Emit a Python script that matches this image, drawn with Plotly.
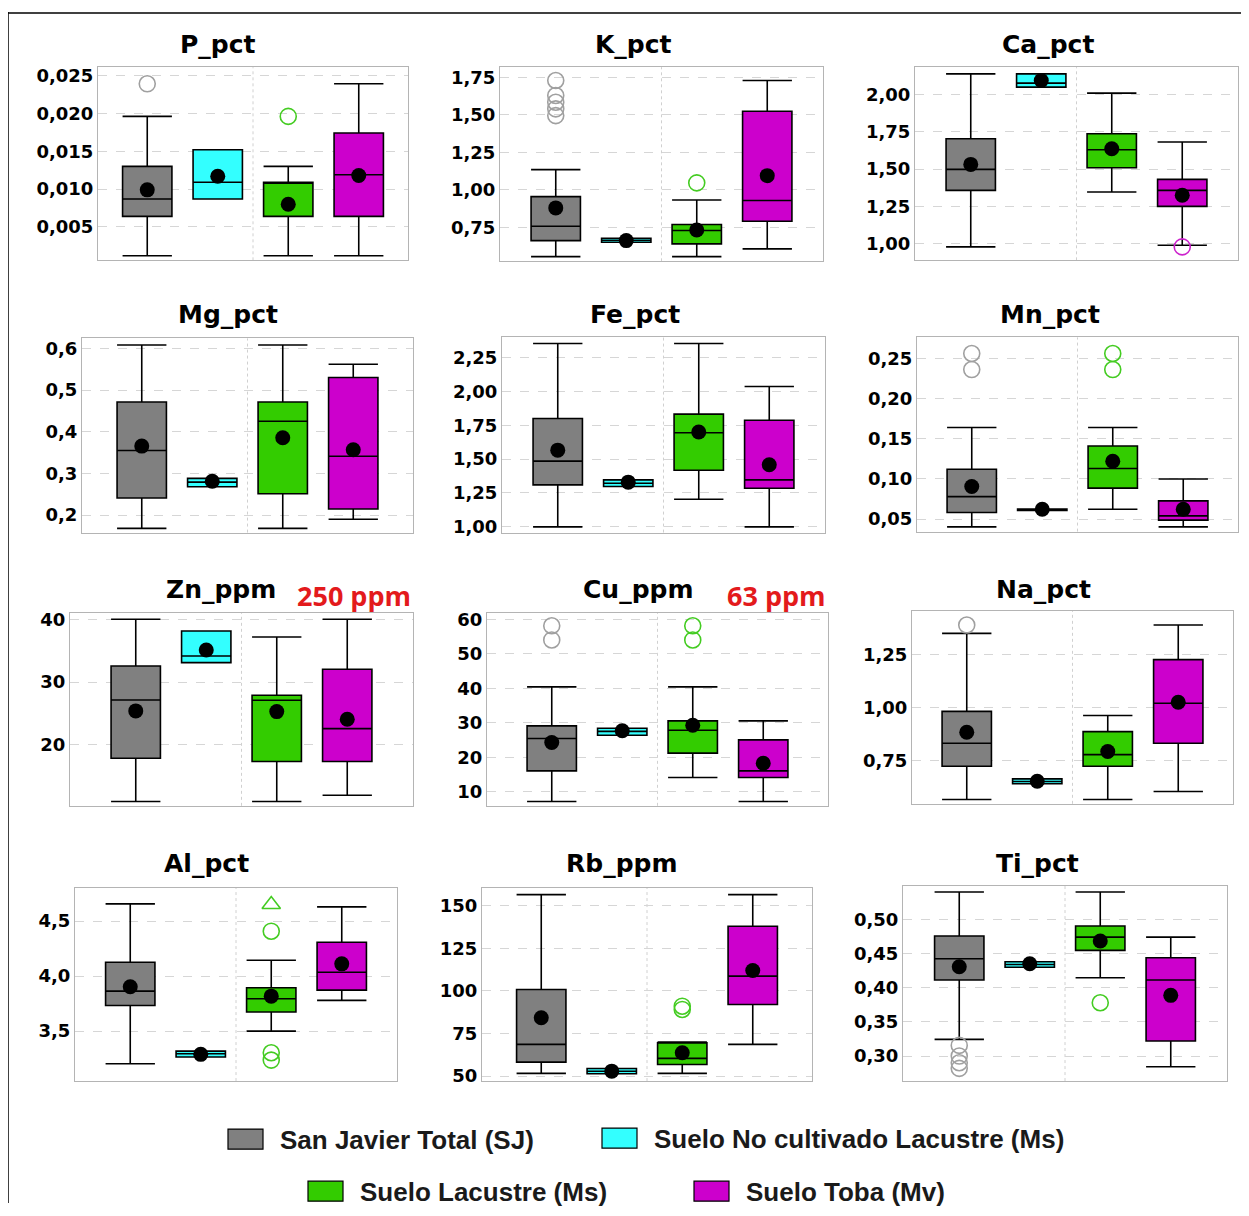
import plotly.graph_objects as go

# the page shifts the figure right/down and squeezes it slightly in height,
# so positions are mapped back to the window through these constants
W, H = 1233, 1200
OFFSET_X, OFFSET_Y, SQUEEZE = 8, 12, 0.9916

VARIABLES = ["P_pct", "K_pct", "Ca_pct", "Mg_pct", "Fe_pct", "Mn_pct",
             "Zn_ppm", "Cu_ppm", "Na_pct", "Al_pct", "Rb_ppm", "Ti_pct"]
GROUPS = ["San Javier Total (SJ)", "Suelo No cultivado Lacustre (Ms)",
          "Suelo Lacustre (Ms)", "Suelo Toba (Mv)"]
COLORS = ["#808080", "#33ffff", "#33cc00", "#cc00cc"]
OUTLIER_COLORS = ["#a0a0a0", "#33ffff", "#44cc22", "#cc22cc"]

# one row per variable, one value per group (SJ, Ms no cultivado, Ms lacustre, Mv)
LOWER = [
    [0.0012, 0.0087, 0.0012, 0.0012],
    [0.554, 0.650, 0.554, 0.606],
    [0.978, 2.049, 1.346, 0.989],
    [0.168, 0.268, 0.168, 0.190],
    [1.00, 1.298, 1.204, 1.00],
    [0.0405, 0.0608, 0.0624, 0.0405],
    [10.98, 33.1, 10.98, 11.99],
    [7.2, 26.4, 14.15, 7.2],
    [0.5655, 0.640, 0.5655, 0.603],
    [3.203, 3.264, 3.50, 3.779],
    [51.6, 51.4, 51.6, 68.6],
    [0.3244, 0.430, 0.4146, 0.2844],
]
Q1 = [
    [0.0064, 0.0087, 0.0064, 0.0064],
    [0.661, 0.650, 0.639, 0.790],
    [1.357, 2.049, 1.509, 1.250],
    [0.241, 0.268, 0.251, 0.2145],
    [1.31, 1.298, 1.418, 1.285],
    [0.0583, 0.0608, 0.0886, 0.0488],
    [17.88, 33.1, 17.35, 17.35],
    [16.08, 26.4, 21.2, 14.15],
    [0.723, 0.640, 0.723, 0.832],
    [3.733, 3.264, 3.673, 3.873],
    [58.2, 51.4, 56.8, 92.0],
    [0.4112, 0.430, 0.4546, 0.322],
]
MEDIAN = [
    [0.0087, 0.0109, 0.0109, 0.0119],
    [0.757, 0.663, 0.728, 0.928],
    [1.498, 2.076, 1.629, 1.357],
    [0.355, 0.279, 0.425, 0.341],
    [1.485, 1.322, 1.695, 1.347],
    [0.078, 0.0616, 0.113, 0.0541],
    [27.16, 34.16, 27.1, 22.6],
    [25.44, 27.5, 27.86, 16.08],
    [0.832, 0.651, 0.778, 1.021],
    [3.864, 3.294, 3.794, 4.036],
    [68.6, 52.9, 60.4, 108.6],
    [0.4424, 0.434, 0.4741, 0.4112],
]
Q3 = [
    [0.0130, 0.0152, 0.0109, 0.0174],
    [0.954, 0.677, 0.768, 1.523],
    [1.703, 2.138, 1.737, 1.431],
    [0.4715, 0.288, 0.4715, 0.530],
    [1.80, 1.347, 1.832, 1.787],
    [0.112, 0.0625, 0.141, 0.0728],
    [32.57, 38.14, 27.9, 32.04],
    [29.1, 28.4, 30.56, 25.06],
    [0.983, 0.663, 0.887, 1.228],
    [4.127, 3.318, 3.894, 4.309],
    [100.8, 54.5, 69.5, 137.9],
    [0.4756, 0.438, 0.4902, 0.4439],
]
UPPER = [
    [0.0196, 0.0152, 0.0130, 0.0239],
    [1.134, 0.677, 0.932, 1.728],
    [2.138, 2.138, 2.009, 1.681],
    [0.608, 0.288, 0.608, 0.562],
    [2.353, 1.347, 2.353, 2.036],
    [0.164, 0.0625, 0.164, 0.100],
    [40.0, 38.14, 37.19, 40.0],
    [40.4, 28.4, 40.4, 30.56],
    [1.3525, 0.663, 0.963, 1.392],
    [4.658, 3.318, 4.145, 4.630],
    [156.4, 54.5, 70.0, 156.4],
    [0.540, 0.438, 0.540, 0.4741],
]
MEAN = [
    [0.0099, 0.0117, 0.0080, 0.0118],
    [0.879, 0.661, 0.732, 1.094],
    [1.531, 2.094, 1.636, 1.324],
    [0.3655, 0.281, 0.3855, 0.3566],
    [1.566, 1.33, 1.70, 1.458],
    [0.0907, 0.0624, 0.122, 0.0624],
    [25.41, 35.12, 25.3, 24.08],
    [24.3, 27.7, 29.3, 18.3],
    [0.884, 0.652, 0.793, 1.026],
    [3.903, 3.288, 3.818, 4.112],
    [84.2, 52.9, 63.7, 111.9],
    [0.4307, 0.435, 0.4683, 0.3888],
]
OUTLIERS = [
    [[0.0239], [], [0.0196], []],
    [[1.728, 1.628, 1.583, 1.539, 1.494], [], [1.046], []],
    [[], [], [], [0.978]],
    [[], [], [], []],
    [[], [], [], []],
    [[0.256, 0.236], [], [0.256, 0.236], []],
    [[], [], [], []],
    [[58.1, 54.0], [], [58.1, 54.0], []],
    [[1.392], [], [], []],
    [[], [], [4.409, 3.303, 3.236], []],
    [[], [], [91.0, 89.1], []],
    [[0.3156, 0.300, 0.2902, 0.282], [], [0.378], []],
]
EXTREMES = [
    [[], [], [], []], [[], [], [], []], [[], [], [], []],
    [[], [], [], []], [[], [], [], []], [[], [], [], []],
    [[], [], [], []], [[], [], [], []], [[], [], [], []],
    [[], [], [4.652], []], [[], [], [], []], [[], [], [], []],
]

Y_RANGES = [
    [0.0006, 0.0261], [0.523, 1.817], [0.888, 2.183],
    [0.158, 0.624], [0.958, 2.398], [0.0346, 0.276],
    [10.3, 41.06], [5.95, 61.9], [0.545, 1.46],
    [3.045, 4.803], [47.1, 160.35], [0.2634, 0.549],
]
Y_TICKS = [
    [0.005, 0.010, 0.015, 0.020, 0.025],
    [0.75, 1.00, 1.25, 1.50, 1.75],
    [1.00, 1.25, 1.50, 1.75, 2.00],
    [0.2, 0.3, 0.4, 0.5, 0.6],
    [1.00, 1.25, 1.50, 1.75, 2.00, 2.25],
    [0.05, 0.10, 0.15, 0.20, 0.25],
    [20, 30, 40],
    [10, 20, 30, 40, 50, 60],
    [0.75, 1.00, 1.25],
    [3.5, 4.0, 4.5],
    [50, 75, 100, 125, 150],
    [0.30, 0.35, 0.40, 0.45, 0.50],
]
TICK_FORMATS = [".3f", ".2f", ".2f", ".1f", ".2f", ".2f",
                "d", "d", ".2f", ".1f", "d", ".2f"]

# plot areas in window pixels: left, right, top, bottom
PANELS = [
    (98, 408, 67, 260), (500, 823, 67, 261), (915, 1238, 67, 260),
    (82, 413, 338, 532), (502, 825, 337, 532), (917, 1238, 337, 531),
    (70, 413, 612, 805), (487, 828, 612, 805), (912, 1233, 610, 803),
    (75, 397, 887, 1080), (482, 812, 887, 1080), (903, 1227, 885, 1080),
]
TITLE_POS = [
    (218, 44), (633, 44), (1048, 44),
    (228, 314), (635, 314), (1050, 314),
    (221, 589), (638, 589), (1043, 589),
    (206, 863), (622, 863), (1037, 863),
]


def px(x):
    return (x - OFFSET_X) / W


def py(y):
    return 1 - (y / SQUEEZE - OFFSET_Y) / H


fig = go.Figure()
layout = {}
shapes = []
annotations = []

for i, var in enumerate(VARIABLES):
    suffix = "" if i == 0 else str(i + 1)
    xa, ya = f"x{suffix}", f"y{suffix}"
    for j, grp in enumerate(GROUPS):
        fig.add_trace(go.Box(
            x=[grp], q1=[Q1[i][j]], median=[MEDIAN[i][j]], q3=[Q3[i][j]],
            lowerfence=[LOWER[i][j]], upperfence=[UPPER[i][j]],
            fillcolor=COLORS[j], line=dict(color="black", width=1.6),
            width=0.7, whiskerwidth=1, boxpoints=False,
            xaxis=xa, yaxis=ya, showlegend=False, name=grp,
        ))
    for j, grp in enumerate(GROUPS):
        if OUTLIERS[i][j]:
            fig.add_trace(go.Scatter(
                x=[grp] * len(OUTLIERS[i][j]), y=OUTLIERS[i][j], mode="markers",
                marker=dict(symbol="circle-open", size=16, color=OUTLIER_COLORS[j],
                            line=dict(width=1.6)),
                xaxis=xa, yaxis=ya, showlegend=False,
            ))
        if EXTREMES[i][j]:
            fig.add_trace(go.Scatter(
                x=[grp] * len(EXTREMES[i][j]), y=EXTREMES[i][j], mode="markers",
                marker=dict(symbol="triangle-up-open", size=16, color=OUTLIER_COLORS[j],
                            line=dict(width=1.6)),
                xaxis=xa, yaxis=ya, showlegend=False,
            ))
    fig.add_trace(go.Scatter(
        x=GROUPS, y=MEAN[i], mode="markers",
        marker=dict(color="black", size=15),
        xaxis=xa, yaxis=ya, showlegend=False,
    ))

    l, r, t, b = PANELS[i]
    pad = ((r - l) / 70.5 - 3) / 2
    layout[f"xaxis{suffix}"] = dict(
        domain=[px(l), px(r)], anchor=ya, type="category",
        categoryorder="array", categoryarray=GROUPS,
        range=[-pad, 3 + pad], showticklabels=False, showgrid=False,
        zeroline=False, showline=True, mirror=True, linecolor="#b4b4b4",
        linewidth=1, ticks="",
    )
    layout[f"yaxis{suffix}"] = dict(
        domain=[py(b), py(t)], anchor=xa, range=Y_RANGES[i],
        tickvals=Y_TICKS[i], tickformat=TICK_FORMATS[i],
        showgrid=True, gridcolor="#d6d6d6", griddash="dash", gridwidth=1,
        zeroline=False, showline=True, mirror=True, linecolor="#b4b4b4",
        linewidth=1, ticks="",
        tickfont=dict(family="DejaVu Sans", size=18, color="black", weight="bold"),
    )
    shapes.append(dict(
        type="line", xref=xa, yref=f"{ya} domain", x0=1.5, x1=1.5, y0=0, y1=1,
        line=dict(color="#d0d0d0", width=1, dash="dot"), layer="below",
    ))
    tx, ty = TITLE_POS[i]
    annotations.append(dict(
        text=var, xref="paper", yref="paper", x=px(tx), y=py(ty),
        xanchor="center", yanchor="middle", showarrow=False,
        font=dict(family="DejaVu Sans", size=25, color="black", weight="bold"),
    ))

# reference values
for text, cx in [("250 ppm", 354), ("63 ppm", 776)]:
    annotations.append(dict(
        text=text, xref="paper", yref="paper", x=px(cx), y=py(595),
        xanchor="center", yanchor="middle", showarrow=False,
        font=dict(family="Open Sans", size=27, color="#e31a1c", weight="bold"),
    ))

# legend
LEGEND_POS = [(228, 1138), (602, 1137), (308, 1190), (694, 1190)]
for j, grp in enumerate(GROUPS):
    lx, ly = LEGEND_POS[j]
    shapes.append(dict(
        type="rect", xref="paper", yref="paper",
        x0=px(lx), x1=px(lx + 35), y0=py(ly + 10), y1=py(ly - 10),
        fillcolor=COLORS[j], line=dict(color="black", width=1.2),
    ))
    annotations.append(dict(
        text=grp, xref="paper", yref="paper", x=px(lx + 50), y=py(ly + 1),
        xanchor="left", yanchor="middle", showarrow=False,
        font=dict(family="Liberation Sans", size=26, color="#1a1a1a", weight="bold"),
    ))

# outer frame
shapes.append(dict(type="line", xref="paper", yref="paper",
                   x0=px(8), x1=px(8), y0=1, y1=0,
                   line=dict(color="black", width=1.5)))
shapes.append(dict(type="line", xref="paper", yref="paper",
                   x0=px(8), x1=1, y0=1 - 1 / H, y1=1 - 1 / H,
                   line=dict(color="black", width=1.5)))

fig.update_layout(
    **layout,
    shapes=shapes,
    annotations=annotations,
    width=W,
    height=H,
    autosize=False,
    margin=dict(l=0, r=0, t=0, b=0),
    paper_bgcolor="white",
    plot_bgcolor="white",
    separators=",.",
    boxmode="overlay",
    showlegend=False,
)

fig.write_html("out.html")
